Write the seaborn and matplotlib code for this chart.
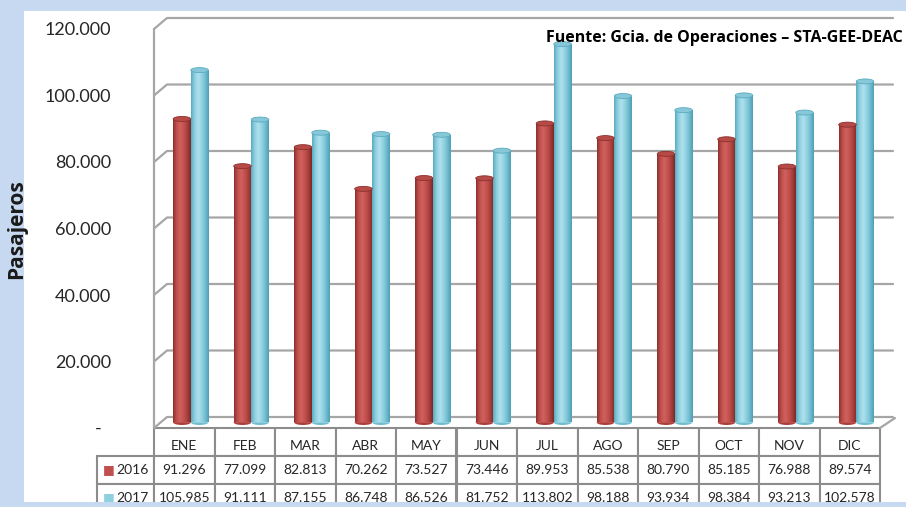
import numpy as np
import pandas as pd
import matplotlib
matplotlib.use('Agg')
import matplotlib.pyplot as plt
import seaborn as sns
from matplotlib.patches import Ellipse, Rectangle
from matplotlib.transforms import ScaledTranslation
from matplotlib.colors import LinearSegmentedColormap

# Data
meses = ['ENE', 'FEB', 'MAR', 'ABR', 'MAY', 'JUN', 'JUL', 'AGO', 'SEP', 'OCT', 'NOV', 'DIC']
anios = ['2016', '2017']
pasajeros_2016 = [91296, 77099, 82813, 70262, 73527, 73446, 89953, 85538, 80790, 85185, 76988, 89574]
pasajeros_2017 = [105985, 91111, 87155, 86748, 86526, 81752, 113802, 98188, 93934, 98384, 93213, 102578]
y_ticks = [0, 20000, 40000, 60000, 80000, 100000, 120000]

df = pd.DataFrame({
    'mes': meses * 2,
    'anio': ['2016'] * 12 + ['2017'] * 12,
    'pasajeros': pasajeros_2016 + pasajeros_2017,
})


def fmt(v):
    return '{:,.0f}'.format(v).replace(',', '.')


sns.set_theme(style='white')
plt.rcParams['font.family'] = ['Lato', 'DejaVu Sans']

BLUE = '#C6D9F1'
GRID = '#A6A6A6'
W, H = 906, 507
fig = plt.figure(figsize=(W / 100, H / 100), dpi=100, facecolor=BLUE)
# white panel
fig.patches.append(Rectangle((24 / W, 5 / H), 1 - 24 / W, 1 - 16 / H, transform=fig.transFigure,
                             facecolor='white', edgecolor='none', zorder=-1))

ax = fig.add_axes([154 / W, 79 / H, 726 / W, 399 / H])
ax.set_facecolor('none')

sns.barplot(data=df, x='mes', y='pasajeros', hue='anio', palette=['#C0504D', '#8FD0E0'],
            width=0.58, gap=0, saturation=1, legend=False, ax=ax)

sx = 726 / 12
sy = 399 / 120000

# 3d walls: back gridlines + left wall
for t in y_ticks:
    ax.plot([-0.5, -0.5 + 13 / sx, 11.5 + 13 / sx], [t, t + 11 / sy, t + 11 / sy],
            color=GRID, lw=1.6, clip_on=False, zorder=0.5)
ax.plot([-0.5, -0.5], [0, 120000], color=GRID, lw=1.6, clip_on=False, zorder=0.5)
ax.plot([11.5, 11.5 + 15 / sx], [0, 10 / sy], color=GRID, lw=1.6, clip_on=False, zorder=0.5)

# cylinders
off = ax.transData + ScaledTranslation(6.5 / 100, 5.5 / 100, fig.dpi_scale_trans)
cmaps = [
    LinearSegmentedColormap.from_list('r', ['#8E302D', '#C0504D', '#D0615D', '#C4524F', '#A8403D', '#7E2825']),
    LinearSegmentedColormap.from_list('c', ['#5AABC0', '#8FD0E0', '#AEE1ED', '#94D3E2', '#72BDD0', '#4E9FB4']),
]
caps = [('#B64A47', '#8E302D'), ('#86C8D8', '#5AABC0')]
bottoms = ['#A8403D', '#72BDD0']
cap_h = 5 / sy

for cont, cmap, (cap_col, cap_edge), bot in zip(ax.containers, cmaps, caps, bottoms):
    for bar in cont:
        x0, w, h = bar.get_x(), bar.get_width(), bar.get_height()
        bar.set_transform(off)
        bar.set_edgecolor('none')
        bar.set_zorder(2)
        im = ax.imshow(np.linspace(0, 1, 64).reshape(1, -1), cmap=cmap, extent=[x0, x0 + w, 0, h],
                       aspect='auto', transform=off, zorder=2.1, interpolation='bilinear')
        im.set_clip_path(bar)
        ax.add_patch(Ellipse((x0 + w / 2, 0), w, cap_h, transform=off, facecolor=bot,
                             edgecolor='none', zorder=1.9))
        ax.add_patch(Ellipse((x0 + w / 2, h), w, cap_h, transform=off, facecolor=cap_col,
                             edgecolor=cap_edge, lw=0.6, zorder=2.2))

ax.set_xlim(-0.5, 11.5)
ax.set_ylim(0, 120000)
ax.set_xticks([])
ax.set_xlabel('')
ax.set_ylabel('')
ax.set_yticks(y_ticks)
ax.set_yticklabels(['-  '] + [fmt(t) for t in y_ticks[1:]], fontsize=13, color='#262626')
ax.tick_params(axis='y', length=0, pad=31)
sns.despine(ax=ax, left=True, bottom=True)

# data table (bbox covers the value grid; row labels hang to the left)
cell_text = [[fmt(v) for v in pasajeros_2016], [fmt(v) for v in pasajeros_2017]]
rl_w = 57 / 726
row_h = 28 / 399
tab = ax.table(cellText=cell_text, colLabels=meses, colWidths=[1 / 12] * 12, cellLoc='center',
               bbox=[0, -3 * row_h, 1, 3 * row_h])
ch = tab[1, 0].get_height()
for i, a in enumerate(anios):
    tab.add_cell(i + 1, -1, width=rl_w, height=ch, text=a, loc='right')
tab.auto_set_font_size(False)
tab.set_fontsize(10)
for (r, c), cell in tab.get_celld().items():
    cell.set_edgecolor('#8C8C8C')
    cell.set_linewidth(1.5)
    cell.get_text().set_color('#262626')
    if r == 0:
        cell.get_text().set_text('\n' + cell.get_text().get_text())
        cell.get_text().set_linespacing(0.5)

for i, col in enumerate(['#C0504D', '#8FD0E0']):
    ax.text(-0.062, -(1.5 + i) * row_h, '\u25A0', color=col, fontsize=9, family='DejaVu Sans',
            ha='center', va='center', transform=ax.transAxes, clip_on=False)

fig.text(17 / W, 1 - 229 / H, 'Pasajeros', rotation=90, fontsize=15, fontweight='bold',
         family='Open Sans', ha='center', va='center', color='#1A1A1A')
fig.text(903 / W, 1 - 38 / H, 'Fuente: Gcia. de Operaciones \u2013 STA-GEE-DEAC', fontsize=11.5,
         fontweight='bold', family='Open Sans', ha='right', va='center', color='#000000')

# bottom strip over the table
fig.add_artist(Rectangle((0, 0), 1, 5 / H, transform=fig.transFigure, facecolor=BLUE,
                         edgecolor='none', zorder=10))

fig.savefig('out.png', dpi=100, facecolor=fig.get_facecolor())
